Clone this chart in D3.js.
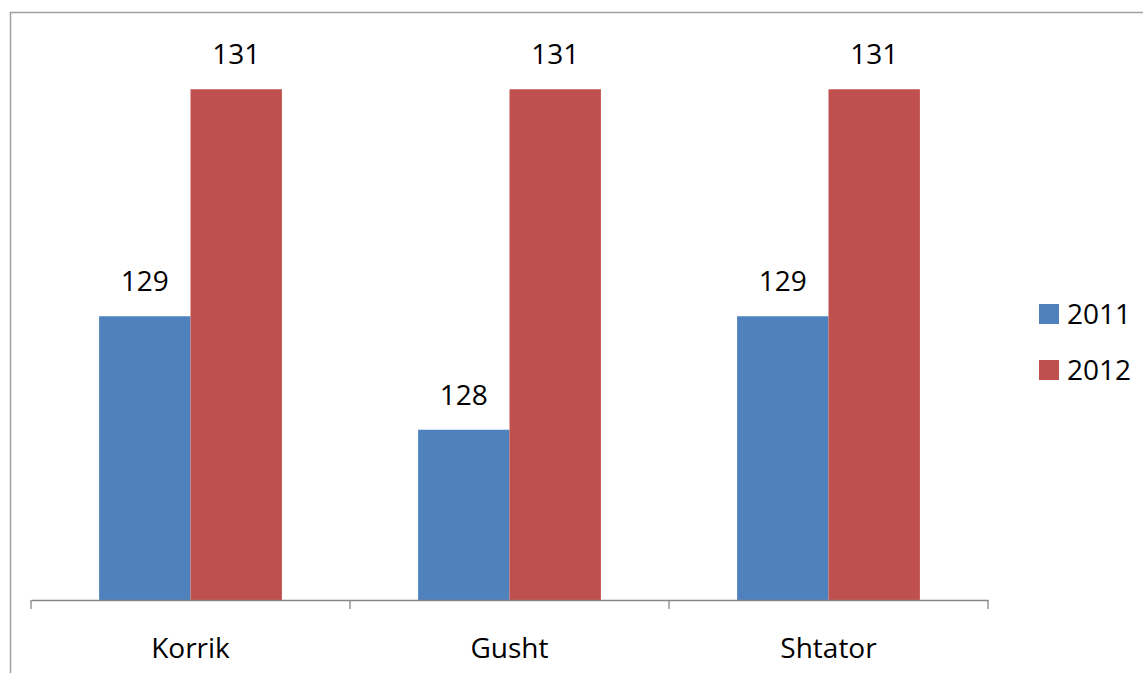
<!DOCTYPE html>
<html>
<head>
<meta charset="utf-8">
<script src="https://cdn.jsdelivr.net/npm/d3@7"></script>
<style>
  html, body { margin: 0; padding: 0; background: #fff; }
  svg { display: block; }
  text { font-family: "Open Sans", "Liberation Sans", sans-serif; fill: #000; }
</style>
</head>
<body>
<svg id="chart" width="1143" height="673"></svg>
<script>
const categories = ["Korrik", "Gusht", "Shtator"];
const seriesNames = ["2011", "2012"];
const values2011 = [129, 128, 129];
const values2012 = [131, 131, 131];
const seriesColors = ["#4F81BD", "#C0504D"];

const allValues = [values2011, values2012];
const svg = d3.select("#chart");

// outer chart border
svg.append("rect")
  .attr("x", 10.5).attr("y", 12.5)
  .attr("width", 1200).attr("height", 800)
  .attr("fill", "none").attr("stroke", "#A0A0A0").attr("stroke-width", 1.5);

const plotLeft = 31, plotRight = 988, baseY = 600;

const x0 = d3.scaleBand().domain(categories).range([plotLeft, plotRight]).padding(0);
const x1 = d3.scaleBand().domain(seriesNames).range([0, x0.bandwidth()])
  .paddingInner(0).paddingOuter(0.745);
const y = d3.scaleLinear().domain([126.5, 131.5]).range([baseY, baseY - 5 * 113.5]);

const data = categories.map((c, i) => ({
  cat: c,
  vals: seriesNames.map((s, j) => ({ s, j, v: allValues[j][i] }))
}));

const groups = svg.append("g").selectAll("g").data(data).join("g")
  .attr("transform", d => `translate(${x0(d.cat)},0)`);

groups.selectAll("rect").data(d => d.vals).join("rect")
  .attr("x", d => x1(d.s))
  .attr("y", d => y(d.v))
  .attr("width", x1.bandwidth())
  .attr("height", d => baseY - y(d.v))
  .attr("fill", d => seriesColors[d.j]);

groups.selectAll("text.val").data(d => d.vals).join("text")
  .attr("class", "val")
  .attr("x", d => x1(d.s) + x1.bandwidth() / 2)
  .attr("y", d => y(d.v) - 25)
  .attr("text-anchor", "middle")
  .style("font-size", "28px")
  .text(d => d.v);

// x axis
const axisG = svg.append("g").attr("transform", `translate(0,${baseY})`);
axisG.call(d3.axisBottom(x0).tickSize(0).tickPadding(0));
axisG.select(".domain").attr("stroke", "#868686").attr("stroke-width", 1.3);
axisG.selectAll(".tick text")
  .attr("y", 58)
  .attr("dy", 0)
  .style("font-size", "28px")
  .style("font-family", "'Open Sans', 'Liberation Sans', sans-serif")
  .attr("fill", "#000");

const boundaries = categories.map(c => x0(c)).concat([x0(categories[categories.length - 1]) + x0.bandwidth()]);
axisG.selectAll("line.bt").data(boundaries).join("line")
  .attr("class", "bt")
  .attr("x1", d => d).attr("x2", d => d)
  .attr("y1", 0).attr("y2", 9)
  .attr("stroke", "#868686").attr("stroke-width", 1.3);

// legend
const legend = svg.append("g").selectAll("g").data(seriesNames).join("g")
  .attr("transform", (d, i) => `translate(1039,${304 + i * 56})`);
legend.append("rect")
  .attr("width", 20).attr("height", 20)
  .attr("fill", (d, i) => seriesColors[i]);
legend.append("text")
  .attr("x", 28).attr("y", 20)
  .style("font-size", "28px")
  .text(d => d);
</script>
</body>
</html>
